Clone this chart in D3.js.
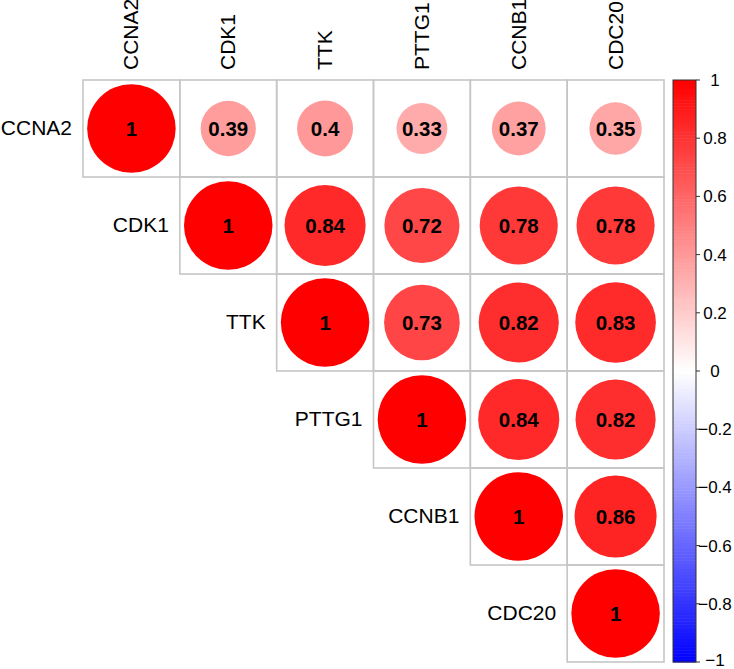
<!DOCTYPE html>
<html><head><meta charset="utf-8">
<script src="https://cdn.jsdelivr.net/npm/d3@7"></script>
<style>body{margin:0;background:#fff}svg{display:block}</style>
</head><body>
<svg id="c" width="734" height="669"></svg>
<script>
const genes = ["CCNA2","CDK1","TTK","PTTG1","CCNB1","CDC20"];
// upper-triangle correlation matrix rows (row i, columns i..5)
const corrCCNA2 = [1, 0.39, 0.4, 0.33, 0.37, 0.35];
const corrCDK1  = [1, 0.84, 0.72, 0.78, 0.78];
const corrTTK   = [1, 0.73, 0.82, 0.83];
const corrPTTG1 = [1, 0.84, 0.82];
const corrCCNB1 = [1, 0.86];
const corrCDC20 = [1];
const legendTicks = [1, 0.8, 0.6, 0.4, 0.2, 0, -0.2, -0.4, -0.6, -0.8, -1];

const rows = [corrCCNA2, corrCDK1, corrTTK, corrPTTG1, corrCCNB1, corrCDC20];
const cells = [];
rows.forEach((vals, i) => vals.forEach((v, k) => cells.push({row: genes[i], col: genes[i + k], v})));

const svg = d3.select("#c");
const x = d3.scaleBand().domain(genes).range([83, 664]);
const y = d3.scaleBand().domain(genes).range([80, 662]);
const color = d3.scaleLinear().domain([-1, 0, 1]).range(["#0000FF", "#FFFFFF", "#FF0000"]);
const maxR = x.bandwidth() * 0.457;
const rScale = d3.scaleSqrt().domain([0, 1]).range([0, maxR]);

// grid cells
svg.append("g").selectAll("rect").data(cells).join("rect")
  .attr("x", d => x(d.col)).attr("y", d => y(d.row))
  .attr("width", x.bandwidth()).attr("height", y.bandwidth())
  .attr("fill", "none").attr("stroke", "#C6C6C6").attr("stroke-width", 1.6);

// circles
svg.append("g").selectAll("circle").data(cells).join("circle")
  .attr("cx", d => x(d.col) + x.bandwidth() / 2)
  .attr("cy", d => y(d.row) + y.bandwidth() / 2)
  .attr("r", d => rScale(Math.abs(d.v)))
  .attr("fill", d => color(d.v));

// numbers
svg.append("g").selectAll("text").data(cells).join("text")
  .attr("x", d => x(d.col) + x.bandwidth() / 2)
  .attr("y", d => y(d.row) + y.bandwidth() / 2 + 7.5)
  .attr("text-anchor", "middle")
  .attr("font-family", "Liberation Sans, Arial, sans-serif")
  .attr("font-weight", "bold").attr("font-size", 20.5)
  .attr("fill", "#000")
  .text(d => d3.format("")(d.v));

// row labels
svg.append("g").selectAll("text").data(genes).join("text")
  .attr("x", d => x(d) - 11)
  .attr("y", d => y(d) + y.bandwidth() / 2 + 6)
  .attr("text-anchor", "end")
  .attr("font-family", "Liberation Sans, Arial, sans-serif")
  .attr("font-size", 21).attr("fill", "#000")
  .text(d => d);

// column labels
svg.append("g").selectAll("text").data(genes).join("text")
  .attr("transform", d => `translate(${x(d) + x.bandwidth() / 2 + 7},70) rotate(-90)`)
  .attr("text-anchor", "start")
  .attr("font-family", "Liberation Sans, Arial, sans-serif")
  .attr("font-size", 21).attr("fill", "#000")
  .text(d => d);

// color legend
const lx0 = 673, lx1 = 696;
const ly = d3.scaleLinear().domain([-1, 1]).range([662, 80]);
const nCol = 200;
const steps = d3.range(nCol);
const legG = svg.append("g");
legG.selectAll("rect").data(steps).join("rect")
  .attr("x", lx0).attr("width", lx1 - lx0)
  .attr("y", i => ly(-1 + (i + 1) * 2 / nCol))
  .attr("height", i => ly(-1 + i * 2 / nCol) - ly(-1 + (i + 1) * 2 / nCol) + 0.5)
  .attr("fill", i => color(-1 + (i + 0.5) * 2 / nCol));
legG.append("rect").attr("x", lx0).attr("y", ly(1)).attr("width", lx1 - lx0)
  .attr("height", ly(-1) - ly(1)).attr("fill", "none").attr("stroke", "#333").attr("stroke-width", 1);
legG.selectAll("line").data(legendTicks).join("line")
  .attr("x1", lx1).attr("x2", lx1 + 4)
  .attr("y1", d => ly(d)).attr("y2", d => ly(d))
  .attr("stroke", "#333").attr("stroke-width", 1);
legG.selectAll("text").data(legendTicks).join("text")
  .attr("x", 715).attr("y", d => Math.min(ly(d) + 6, 666))
  .attr("text-anchor", "middle")
  .attr("font-family", "Liberation Sans, Arial, sans-serif")
  .attr("font-size", 17).attr("fill", "#000")
  .text(d => d < 0 ? "\u2212" + Math.abs(d) : String(d));
</script>
</body></html>
